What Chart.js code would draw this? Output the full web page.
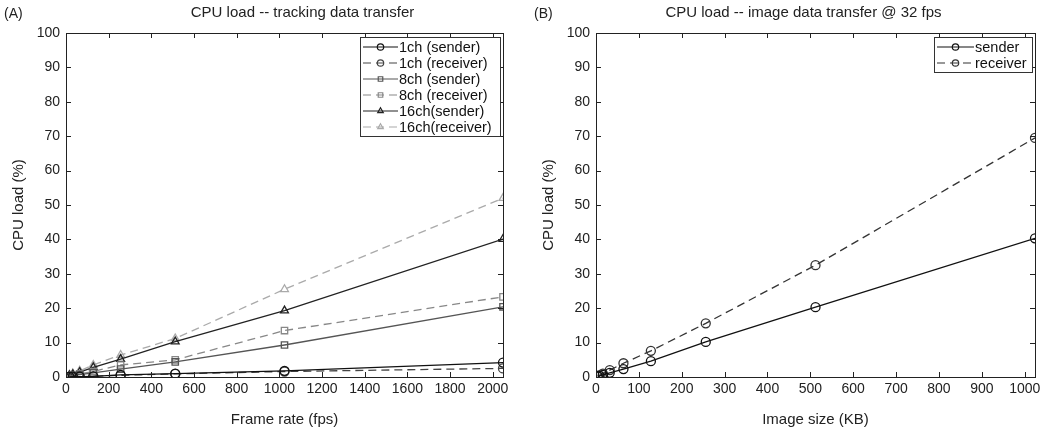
<!DOCTYPE html>
<html>
<head>
<meta charset="utf-8">
<script src="https://cdn.jsdelivr.net/npm/chart.js@4/dist/chart.umd.min.js"></script>
<style>
  body { margin: 0; background: #fff; }
  #wrap { position: relative; width: 1050px; height: 433px; }
  #left { position: absolute; left: 0; top: 0; }
  #right { position: absolute; left: 530px; top: 0; }
</style>
</head>
<body>
<div id="wrap">
  <canvas id="left" width="530" height="433"></canvas>
  <canvas id="right" width="520" height="433"></canvas>
</div>
<script>
// ---- data (A) tracking data transfer ----
const frameRates = [16, 32, 64, 128, 256, 512, 1024, 2048];
const ch1Sender   = [0.05, 0.1, 0.1, 0.2, 0.6, 1.0, 1.8, 4.2];
const ch1Receiver = [0.05, 0.1, 0.1, 0.2, 0.5, 0.9, 1.6, 2.5];
const ch8Sender   = [0.2, 0.4, 0.7, 1.2, 2.3, 4.4, 9.3, 20.4];
const ch8Receiver = [0.3, 0.5, 0.9, 1.6, 3.5, 5.0, 13.5, 23.3];
const ch16Sender   = [0.5, 0.8, 1.4, 2.8, 5.2, 10.3, 19.3, 40.1];
const ch16Receiver = [0.6, 1.0, 1.8, 3.5, 6.4, 11.2, 25.5, 52.0];

// ---- data (B) image data transfer ----
const imageSizes = [4, 8, 16, 32, 64, 128, 256, 512, 1024];
const imgSender   = [0.15, 0.3, 0.6, 1.2, 2.3, 4.6, 10.2, 20.3, 40.3];
const imgReceiver = [0.25, 0.5, 1.0, 2.0, 4.0, 7.6, 15.6, 32.5, 69.5];

// ---- ticks ----
const xTicksA = [0, 200, 400, 600, 800, 1000, 1200, 1400, 1600, 1800, 2000];
const xTicksB = [0, 100, 200, 300, 400, 500, 600, 700, 800, 900, 1000];
const yTicks = [0, 10, 20, 30, 40, 50, 60, 70, 80, 90, 100];

const FONT = 'Liberation Sans, Arial, Helvetica, sans-serif';
Chart.defaults.font.family = FONT;
Chart.defaults.font.size = 14;
Chart.defaults.color = '#222';

function pts(xs, ys) {
    return xs.map((x, i) => ({ x: x, y: ys[i] }));
}

function series(label, xs, ys, color, dashed, marker) {
    return {
        label: label,
        data: pts(xs, ys),
        borderColor: color,
        backgroundColor: 'rgba(0,0,0,0)',
        borderWidth: 1.3,
        borderDash: dashed ? [8, 5] : [],
        pointStyle: marker,
        pointRadius: 4.5,
        pointBorderWidth: 1.3,
        pointBorderColor: color,
        pointBackgroundColor: 'rgba(0,0,0,0)',
        tension: 0
    };
}

// frame, inward ticks on all four sides, panel letter and title
const framePlugin = {
    id: 'frame',
    afterDatasetsDraw(chart, args, opts) {
        const ctx = chart.ctx;
        const a = chart.chartArea;
        const xs = chart.scales.x, ys = chart.scales.y;
        ctx.save();
        ctx.strokeStyle = '#222';
        ctx.lineWidth = 1;
        ctx.strokeRect(a.left + 0.5, a.top + 0.5, a.right - a.left, a.bottom - a.top);
        ctx.beginPath();
        xs.ticks.forEach(t => {
            const px = Math.round(xs.getPixelForValue(t.value)) + 0.5;
            ctx.moveTo(px, a.bottom); ctx.lineTo(px, a.bottom - 5);
            ctx.moveTo(px, a.top); ctx.lineTo(px, a.top + 5);
        });
        ys.ticks.forEach(t => {
            const py = Math.round(ys.getPixelForValue(t.value)) + 0.5;
            ctx.moveTo(a.left, py); ctx.lineTo(a.left + 5, py);
            ctx.moveTo(a.right, py); ctx.lineTo(a.right - 5, py);
        });
        ctx.stroke();

        ctx.fillStyle = '#222';
        ctx.font = '14px ' + FONT;
        ctx.textBaseline = 'middle';
        ctx.textAlign = 'left';
        ctx.fillText(opts.letter, 4, 14);
        ctx.font = '15px ' + FONT;
        ctx.textAlign = 'center';
        ctx.fillText(opts.title, (a.left + a.right) / 2 + opts.titleShift, 13);
        ctx.restore();
    }
};

// boxed legend inside the plot, upper right
const boxLegend = {
    id: 'boxLegend',
    afterDraw(chart, args, opts) {
        const ctx = chart.ctx;
        const a = chart.chartArea;
        const sets = chart.data.datasets;
        const rowH = 16;
        const w = opts.width, h = sets.length * rowH + 3;
        const x0 = a.right - 3 - w, y0 = a.top + 4;
        ctx.save();
        ctx.fillStyle = '#fff';
        ctx.fillRect(x0, y0, w, h);
        ctx.strokeStyle = '#333';
        ctx.lineWidth = 1;
        ctx.strokeRect(x0 + 0.5, y0 + 0.5, w, h);
        ctx.font = '14.5px ' + FONT;
        ctx.textBaseline = 'middle';
        ctx.textAlign = 'left';
        sets.forEach((ds, i) => {
            const cy = y0 + 2 + rowH * i + rowH / 2;
            ctx.strokeStyle = ds.borderColor;
            ctx.lineWidth = 1.2;
            ctx.setLineDash(ds.borderDash);
            ctx.beginPath();
            ctx.moveTo(x0 + 3, cy);
            ctx.lineTo(x0 + opts.sample, cy);
            ctx.stroke();
            ctx.setLineDash([]);
            ctx.fillStyle = 'rgba(0,0,0,0)';
            Chart.helpers.drawPoint(ctx, {
                pointStyle: ds.pointStyle, radius: 3.2, borderWidth: 1.2, rotation: 0
            }, x0 + 3 + (opts.sample - 3) / 2, cy);
            ctx.fillStyle = '#111';
            ctx.fillText(ds.label, x0 + opts.sample + 1, cy + 0.5);
        });
        ctx.restore();
    }
};

function makeOptions(xMax, xTicks, xTitle, letter, title, titleShift, legendWidth, legendSample, rightPad) {
    return {
        responsive: false,
        animation: false,
        layout: { padding: { top: 33, right: rightPad, left: 0, bottom: 0 } },
        plugins: {
            legend: { display: false },
            tooltip: { enabled: false },
            frame: { letter: letter, title: title, titleShift: titleShift },
            boxLegend: { width: legendWidth, sample: legendSample }
        },
        scales: {
            x: {
                type: 'linear',
                min: 0,
                max: xMax,
                afterBuildTicks: s => { s.ticks = xTicks.map(v => ({ value: v })); },
                afterFit: s => { s.height = 56; },
                grid: { display: false, drawTicks: false },
                border: { display: false },
                ticks: { padding: 4, maxRotation: 0, autoSkip: false, color: '#222',
                         callback: v => String(v) },
                title: { display: true, text: xTitle, color: '#222', font: { size: 15 }, padding: { top: 8 } }
            },
            y: {
                type: 'linear',
                min: 0,
                max: 100,
                afterBuildTicks: s => { s.ticks = yTicks.map(v => ({ value: v })); },
                afterFit: s => { s.width = 66; },
                grid: { display: false, drawTicks: false },
                border: { display: false },
                ticks: { padding: 6, color: '#222', callback: v => String(v) },
                title: { display: true, text: 'CPU load (%)', color: '#222', font: { size: 15 }, padding: { bottom: 0, top: 10 } }
            }
        }
    };
}

new Chart(document.getElementById('left'), {
    type: 'line',
    data: {
        datasets: [
            series('1ch (sender)', frameRates, ch1Sender, '#111', false, 'circle'),
            series('1ch (receiver)', frameRates, ch1Receiver, '#444', true, 'circle'),
            series('8ch (sender)', frameRates, ch8Sender, '#555', false, 'rect'),
            series('8ch (receiver)', frameRates, ch8Receiver, '#888', true, 'rect'),
            series('16ch(sender)', frameRates, ch16Sender, '#222', false, 'triangle'),
            series('16ch(receiver)', frameRates, ch16Receiver, '#aaa', true, 'triangle')
        ]
    },
    options: makeOptions(2048, xTicksA, 'Frame rate (fps)', '(A)',
        'CPU load -- tracking data transfer', 18, 140, 38, 27),
    plugins: [framePlugin, boxLegend]
});

new Chart(document.getElementById('right'), {
    type: 'line',
    data: {
        datasets: [
            series('sender', imageSizes, imgSender, '#111', false, 'circle'),
            series('receiver', imageSizes, imgReceiver, '#333', true, 'circle')
        ]
    },
    options: makeOptions(1024, xTicksB, 'Image size (KB)', '(B)',
        'CPU load -- image data transfer @ 32 fps', -12, 98, 40, 15),
    plugins: [framePlugin, boxLegend]
});
</script>
</body>
</html>
